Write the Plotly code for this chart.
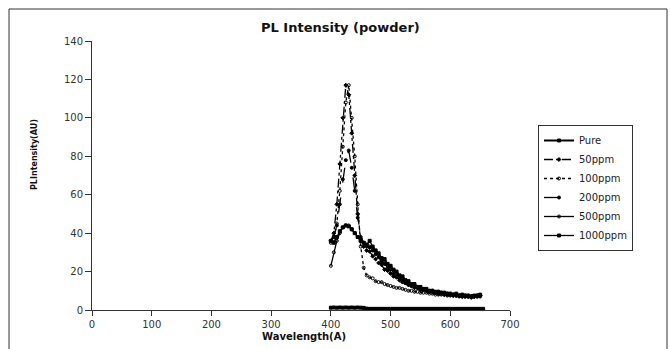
import plotly.graph_objects as go

# ---- data ----
wavelength = [400, 405, 410, 415, 420, 425, 430, 435, 440, 445, 450, 455, 460, 465, 470,
              475, 480, 485, 490, 495, 500, 505, 510, 515, 520, 525, 530, 535, 540, 545,
              550, 555, 560, 565, 570, 575, 580, 585, 590, 595, 600, 605, 610, 615, 620,
              625, 630, 635, 640, 645, 650]

wavelength_pure = [400, 405, 410, 415, 420, 425, 430, 435, 440, 445, 450, 455, 460, 465, 470,
                   475, 480, 485, 490, 495, 500, 505, 510, 515, 520, 525, 530, 535, 540, 545,
                   550, 555, 560, 565, 570, 575, 580, 585, 590, 595, 600, 605, 610, 615, 620,
                   625, 630, 635, 640, 645, 650, 655]

pure = [1.2, 1.3, 1.2, 1.3, 1.2, 1.3, 1.2, 1.3, 1.2, 1.3, 1.2, 1.1, 0.7, 0.6, 0.6,
        0.6, 0.6, 0.6, 0.6, 0.6, 0.6, 0.6, 0.6, 0.6, 0.6, 0.6, 0.6, 0.6, 0.6, 0.6,
        0.6, 0.6, 0.6, 0.6, 0.6, 0.6, 0.6, 0.6, 0.6, 0.6, 0.6, 0.6, 0.6, 0.6, 0.6,
        0.6, 0.6, 0.6, 0.6, 0.6, 0.6, 0.6]

ppm50 = [36, 40, 55, 76, 100, 117, 112, 92, 70, 50, 37, 33, 31, 30.5, 28,
         26.5, 24.5, 23.5, 21, 20.5, 19, 17.5, 17, 15.5, 14.5, 14, 13, 12.5, 11.5, 11.5,
         10.5, 10.5, 10, 9.5, 9.5, 9, 8.5, 9, 8, 8.5, 8, 7.5, 8, 7.5, 7,
         7.5, 7, 6.5, 7, 7.5, 7.5]

ppm100 = [35, 37, 45, 62, 85, 108, 117, 100, 80, 55, 33, 22, 18, 17, 16.5,
          15, 14.5, 14.5, 13.5, 13, 12.5, 12, 11.5, 11.5, 11, 10.5, 10, 10, 9.5, 9.5,
          9, 9, 9, 8.5, 8.5, 8, 8, 8, 8, 7.5, 7.5, 7.5, 7.5, 7, 7,
          7, 7, 7, 7, 7, 7]

ppm200 = [36, 38, 44, 55, 68, 78, 83, 74, 62, 48, 38, 35, 33, 32.5, 31,
          29, 27.5, 25, 24, 22, 21, 19, 18, 16.5, 15.5, 14, 14, 12.5, 12.5, 11.5,
          11, 10.5, 10.5, 9.5, 10, 9, 9, 8.5, 8.5, 8, 8.5, 8, 7.5, 7.5, 7.5,
          7, 7.5, 7, 7, 7.5, 7.5]

ppm500 = [23, 30, 36, 40, 43, 44, 44, 42, 40, 38, 36, 35, 34, 33, 32,
          30, 28.5, 26, 25.5, 23.5, 22.5, 20.5, 19.5, 17.5, 17, 15, 14.5, 13, 13, 12,
          11.5, 10.5, 10.5, 10, 10, 9, 9.5, 8.5, 9, 8, 8, 8, 7.5, 7.5, 7.5,
          7, 7, 7, 7, 7, 7.5]

ppm1000 = [36, 35, 38, 41, 43, 44, 43.5, 42, 40, 38, 36, 35, 34, 36, 33,
           31, 29.5, 27, 26.5, 24, 23, 21, 20, 18, 17.5, 15.5, 15, 13.5, 13.5, 12,
           12, 11, 11, 10, 10, 9.5, 9.5, 9, 9, 8.5, 8.5, 8, 8.5, 7.5, 8,
           7.5, 7.5, 7, 7.5, 7.5, 8]

x_ticks = [0, 100, 200, 300, 400, 500, 600, 700]
y_ticks = [0, 20, 40, 60, 80, 100, 120, 140]

series = [
    ("Pure", wavelength_pure, pure, "solid", "square", 2.0),
    ("50ppm", wavelength, ppm50, "dashdot", "diamond", 1.3),
    ("100ppm", wavelength, ppm100, "dot", "circle-open", 1.3),
    ("200ppm", wavelength, ppm200, "longdash", "circle", 1.3),
    ("500ppm", wavelength, ppm500, "solid", "circle-open", 1.3),
    ("1000ppm", wavelength, ppm1000, "solid", "square", 1.3),
]

fig = go.Figure()
for name, xs, ys, dash, sym, lw in series:
    fig.add_trace(go.Scatter(
        x=xs, y=ys, name=name, mode="lines+markers",
        line=dict(color="black", width=lw, dash=dash),
        marker=dict(color="black", size=3, symbol=sym, line=dict(color="black", width=1)),
    ))

axis_font = dict(family="DejaVu Sans", size=10, color="#333333")

fig.update_layout(
    width=670, height=349,
    margin=dict(l=92, r=160, t=41, b=39),
    paper_bgcolor="white", plot_bgcolor="white",
    showlegend=True,
    legend=dict(
        x=(538 - 92) / 418, y=(310 - 188) / 269, xanchor="left", yanchor="middle",
        bordercolor="#333333", borderwidth=1, bgcolor="white",
        font=dict(family="DejaVu Sans", size=10, color="#222222"),
        itemwidth=30, tracegroupgap=0,
    ),
    xaxis=dict(
        range=[0, 700], tickvals=x_ticks, ticktext=[str(v) for v in x_ticks],
        showgrid=False, zeroline=False, showline=True, linecolor="#333333", linewidth=1,
        ticks="outside", ticklen=5, tickcolor="#333333", tickfont=axis_font,
    ),
    yaxis=dict(
        range=[0, 140], tickvals=y_ticks, ticktext=[str(v) for v in y_ticks],
        showgrid=False, zeroline=False, showline=True, linecolor="#333333", linewidth=1,
        ticks="outside", ticklen=6, tickcolor="#333333", tickfont=axis_font,
    ),
    font=dict(family="DejaVu Sans", color="#222222"),
)

# outer chart-area border
fig.add_shape(type="rect", xref="paper", yref="paper",
              x0=(9 - 92) / 418, x1=(667 - 92) / 418,
              y0=(310 - 400) / 269, y1=(310 - 9) / 269,
              line=dict(color="#333333", width=1), fillcolor="rgba(0,0,0,0)", layer="below")

# title and axis titles
fig.add_annotation(text="<b>PL Intensity (powder)</b>", xref="paper", yref="paper",
                   x=(340 - 92) / 418, y=(310 - 27) / 269, xanchor="center", yanchor="middle",
                   showarrow=False, font=dict(family="DejaVu Sans", size=13, color="#111111"))
fig.add_annotation(text="<b>Wavelength(A)</b>", xref="paper", yref="paper",
                   x=(304 - 92) / 418, y=(310 - 336) / 269, xanchor="center", yanchor="middle",
                   showarrow=False, font=dict(family="DejaVu Sans", size=10, color="#111111"))
fig.add_annotation(text="<b>PLIntensity(AU)</b>", xref="paper", yref="paper",
                   x=(34 - 92) / 418, y=(310 - 155) / 269, xanchor="center", yanchor="middle",
                   textangle=-90, showarrow=False,
                   font=dict(family="DejaVu Sans", size=8, color="#111111"))

fig.write_html("out.html")
